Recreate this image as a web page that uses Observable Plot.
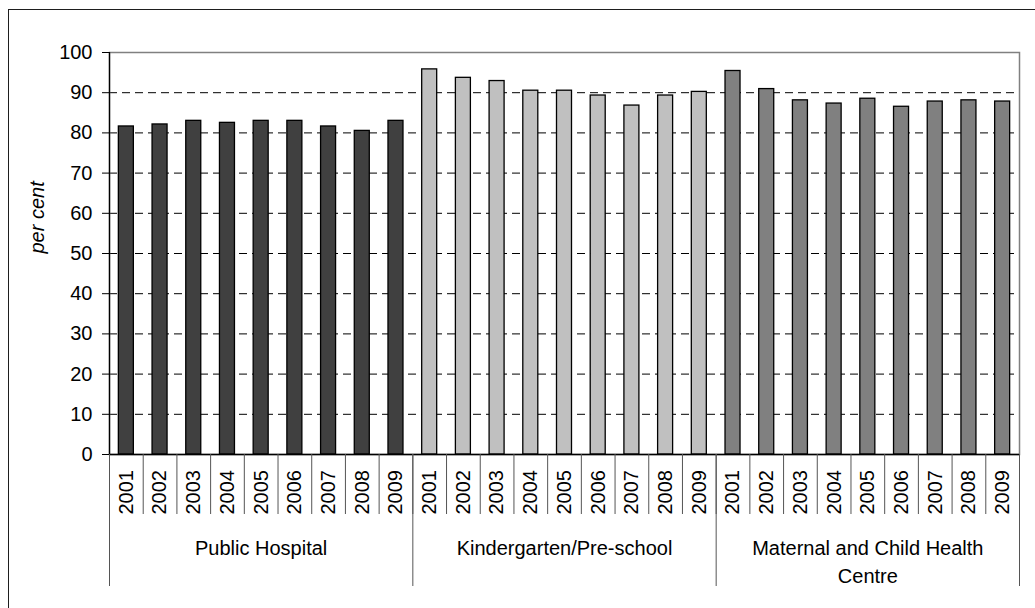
<!DOCTYPE html>
<html><head><meta charset="utf-8">
<script src="https://cdn.jsdelivr.net/npm/d3@7"></script>
<script src="https://cdn.jsdelivr.net/npm/@observablehq/plot@0.6"></script>
<style>
html,body{margin:0;padding:0;background:#fff;overflow:hidden;}
#wrap{position:relative;width:1035px;height:608px;overflow:hidden;}
#border{position:absolute;left:8px;top:9px;width:1100px;height:700px;border:1.5px solid #1e1e1e;pointer-events:none;}
</style></head><body>
<div id="wrap"><div id="chart"></div><div id="border"></div></div>
<script>
const years = ["2001","2002","2003","2004","2005","2006","2007","2008","2009"];
const groups = ["Public Hospital","Kindergarten/Pre-school","Maternal and Child Health Centre"];
const publicHospital = [81.6, 82.1, 83.0, 82.5, 83.0, 83.0, 81.6, 80.5, 83.0];
const kindergarten = [95.8, 93.7, 92.9, 90.5, 90.5, 89.3, 86.8, 89.3, 90.2];
const maternalChild = [95.4, 90.9, 88.1, 87.3, 88.5, 86.5, 87.8, 88.1, 87.8];
const groupColors = ["#404040", "#c0c0c0", "#808080"];
const yTicks = [0, 10, 20, 30, 40, 50, 60, 70, 80, 90, 100];
const yLabel = "per cent";

const seriesValues = [publicHospital, kindergarten, maternalChild];
const rows = groups.flatMap((g, gi) => years.map((yr, yi) => ({group: g, year: yr, key: g + "|" + yr, value: seriesValues[gi][yi]})));
const keys = rows.map(d => d.key);

const W = 1035, H = 608, mL = 109, mR = 16, mT = 52, mB = 154;
const step = (W - mL - mR) / keys.length;
const barWidth = 15;
const inset = (step - barWidth) / 2;
const firstOfGroup = rows.filter(d => d.year === years[0]);
const midOfGroup = rows.filter(d => d.year === years[4]);
const lastRow = rows[rows.length - 1];
const font = 20;

const chart = Plot.plot({
  width: W, height: H,
  marginLeft: mL, marginRight: mR, marginTop: mT, marginBottom: mB,
  style: {fontFamily: "'Liberation Sans', Arial, sans-serif", fontSize: font + "px", color: "#000", background: "transparent", overflow: "visible"},
  x: {type: "band", domain: keys, padding: 0, round: false, axis: null},
  y: {domain: [0, 100]},
  color: {domain: groups, range: groupColors},
  marks: [
    Plot.ruleY(yTicks.slice(1), {stroke: "#000", strokeDasharray: "8,5", strokeWidth: 1}),
    Plot.frame({stroke: "#808080", strokeWidth: 1.5}),
    Plot.barY(rows, {x: "key", y: "value", fill: "group", stroke: "#000", strokeWidth: 1.3, insetLeft: inset, insetRight: inset}),
    Plot.axisY({ticks: yTicks, tickSize: 7, tickPadding: 10, fontSize: font, label: null, stroke: "#000"}),
    Plot.ruleX([rows[0]], {x: "key", y1: 0, y2: 100, dx: -step / 2, stroke: "#000", strokeWidth: 1.3}),
    Plot.ruleY([0], {stroke: "#000", strokeWidth: 1.5}),
    Plot.ruleX(rows, {x: "key", y1: 0, y2: 0, insetBottom: -60, dx: -step / 2, stroke: "#555"}),
    Plot.ruleX(firstOfGroup, {x: "key", y1: 0, y2: 0, insetBottom: -132, dx: -step / 2, stroke: "#555"}),
    Plot.ruleX([lastRow], {x: "key", y1: 0, y2: 0, insetBottom: -132, dx: step / 2, stroke: "#555"}),
    Plot.text(rows, {x: "key", y: 0, text: "year", rotate: -90, textAnchor: "start", dy: 60, fontSize: font, fill: "#000"}),
    Plot.text(midOfGroup, {x: "key", y: 0, text: "group", lineWidth: 13, lineAnchor: "top", lineHeight: 1.4, dy: 81, fontSize: font, fill: "#000"}),
    Plot.text([yLabel], {text: d => d, frameAnchor: "left", rotate: -90, dx: -72, fontStyle: "italic", fontSize: font, fill: "#000"})
  ]
});
document.getElementById("chart").appendChild(chart);
</script>
</body></html>
